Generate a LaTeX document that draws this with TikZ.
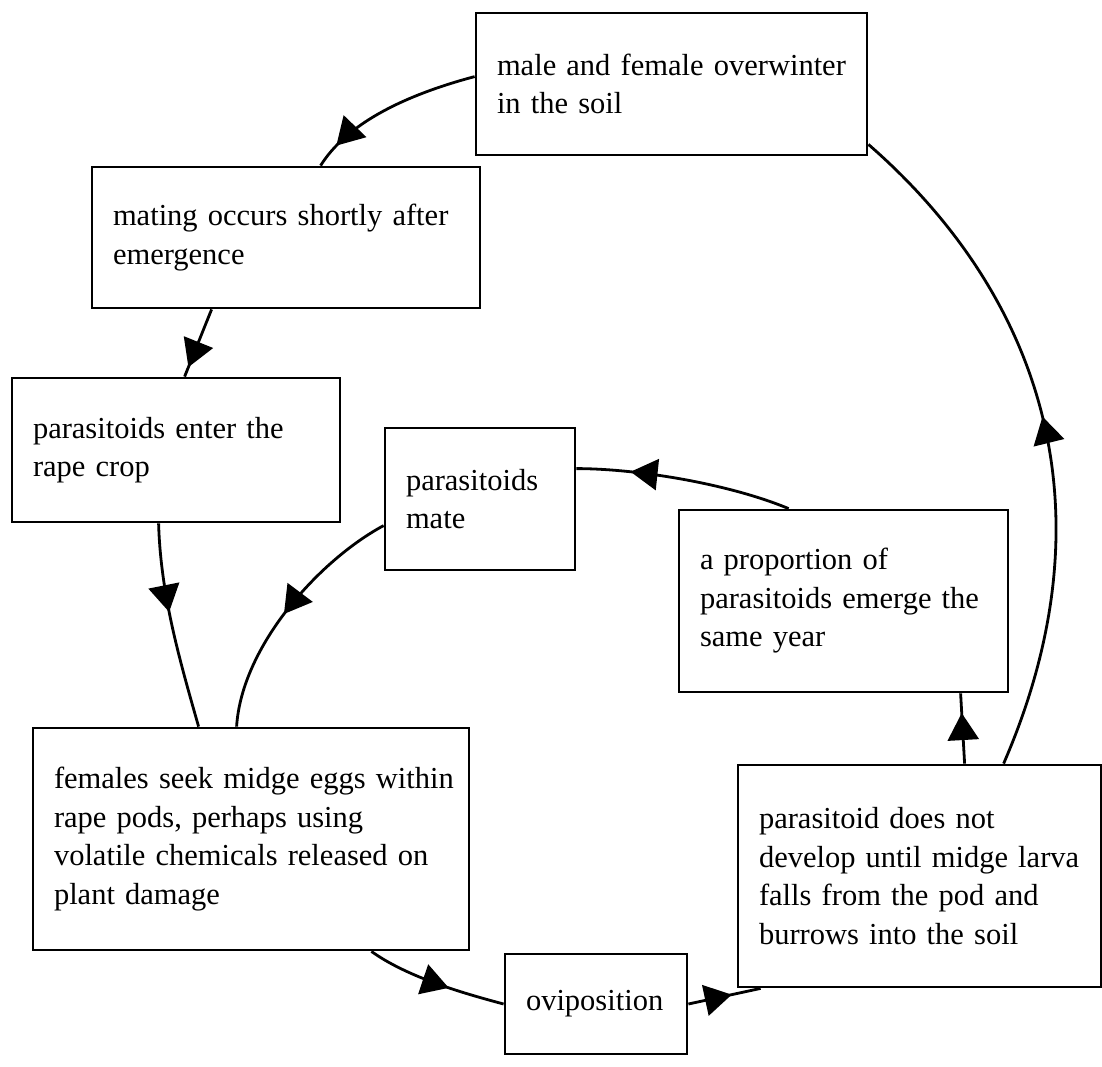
\documentclass[tikz,border=0pt]{standalone}
\usepackage{fontspec}
\setmainfont{Liberation Serif}
\usetikzlibrary{arrows.meta,decorations.markings,calc}
\tikzset{
  box/.style={draw, line width=2.8pt, rectangle, inner xsep=21pt, inner ysep=0pt,
    align=left, font=\fontsize{30.5}{38.5}\selectfont, anchor=center},
  conn/.style={line width=2.8pt, postaction={decorate},
    decoration={markings, mark=at position #1 with {\arrow{Triangle[length=27pt,width=31pt]}}}},
}
\begin{document}
\begin{tikzpicture}[x=1pt,y=-1pt]
\useasboundingbox (0,0) rectangle (1102,1067);

\node[box, text width=349pt, minimum height=142pt] (b1) at (671.5,84) {\mbox{male and female overwinter}\\in the soil};
\node[box, text width=346pt, minimum height=141pt] (b2) at (286,237.5) {\mbox{mating occurs shortly after}\\emergence};
\node[box, text width=286pt, minimum height=144pt] (b3) at (176,450) {parasitoids enter the\\rape crop};
\node[box, text width=148pt, minimum height=142pt] (b4) at (480,499) {parasitoids\\mate};
\node[box, text width=287pt, minimum height=182pt] (b5) at (843.5,601) {a proportion of\\\mbox{parasitoids emerge the}\\same year};
\node[box, text width=394pt, minimum height=222pt] (b6) at (251,839) {\mbox{females seek midge eggs within}\\rape pods, perhaps using\\\mbox{volatile chemicals released on}\\plant damage};
\node[box, text width=140pt, minimum height=100pt] (b7) at (596,1004) {oviposition};
\node[box, text width=321pt, minimum height=222pt] (b8) at (919.5,876) {parasitoid does not\\\mbox{develop until midge larva}\\falls from the pod and\\burrows into the soil};

\draw[conn=0.86] ($(b1.north west)+(0,65)$) .. controls +(-75,20) and +(25,-40) .. ($(b2.north west)+(230,0)$);
\draw[conn=0.86] ($(b2.south west)+(121,0)$) -- ($(b3.north west)+(174,0)$);
\draw[conn=0.43] ($(b3.south west)+(148,0)$) .. controls +(2,70) and +(-20,-70) .. ($(b6.north west)+(167,0)$);
\draw[conn=0.52] ($(b4.north west)+(0,99)$) .. controls +(-65,35) and +(5,-80) .. ($(b6.north west)+(205,0)$);
\draw[conn=0.75] ($(b5.north west)+(111,0)$) .. controls +(-60,-25) and +(60,0) .. ($(b4.north east)+(0,42)$);
\draw[conn=0.6] ($(b6.south east)+(-99,0)$) .. controls +(35,25) and +(-45,-12) .. (b7.west);
\draw[conn=0.6] (b7.east) -- ($(b8.south west)+(24,0)$);
\draw[conn=0.72] ($(b8.north west)+(228,0)$) -- ($(b5.south west)+(283,0)$);
\draw[conn=0.52] ($(b8.north west)+(267,0)$) .. controls +(115,-265) and +(163,142) .. ($(b1.south east)+(0,-12)$);
\end{tikzpicture}
\end{document}
